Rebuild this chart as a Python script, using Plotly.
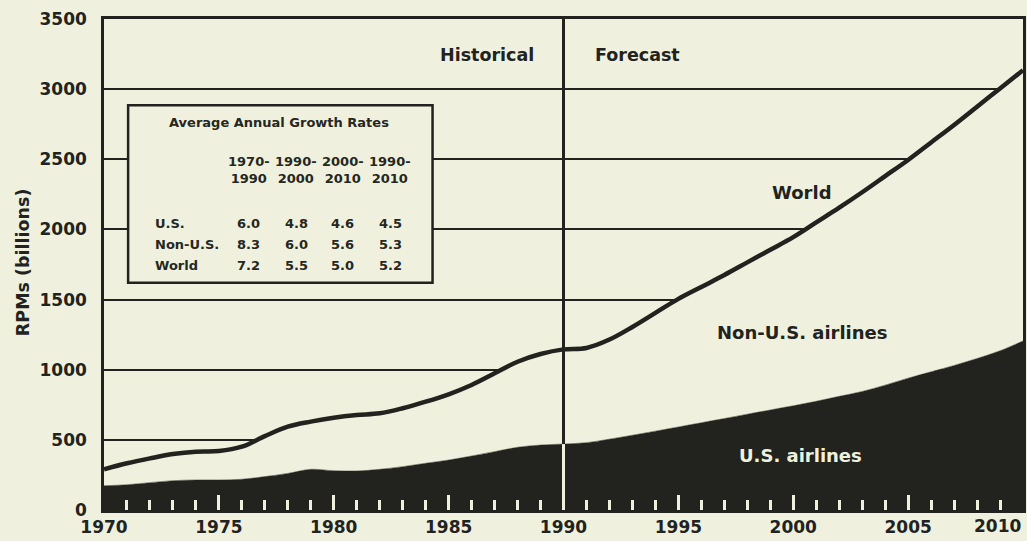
import plotly.graph_objects as go

# RPMs in billions
years = list(range(1970, 2011))
us_rpm = [173, 180, 195, 209, 214, 214, 219, 238, 261, 290, 280,
          278, 290, 309, 333, 356, 385, 416, 447, 463, 470,
          480, 505, 533, 562, 592, 622, 652, 683, 713, 743,
          775, 810, 845, 890, 940, 985, 1030, 1080, 1135, 1205]
world_rpm = [290, 333, 368, 399, 416, 420, 451, 527, 594, 630, 658,
             677, 689, 725, 772, 825, 891, 974, 1057, 1112, 1145,
             1155, 1215, 1305, 1405, 1505, 1590, 1675, 1765, 1855, 1945,
             2050, 2155, 2265, 2380, 2495, 2620, 2745, 2875, 3005, 3135]

y_ticks = [0, 500, 1000, 1500, 2000, 2500, 3000, 3500]
x_ticks = [1970, 1975, 1980, 1985, 1990, 1995, 2000, 2005]
last_year = 2010

# growth-rate table
periods = ["1970-<br>1990", "1990-<br>2000", "2000-<br>2010", "1990-<br>2010"]
regions = ["U.S.", "Non-U.S.", "World"]
rates = {
    "U.S.": ["6.0", "4.8", "4.6", "4.5"],
    "Non-U.S.": ["8.3", "6.0", "5.6", "5.3"],
    "World": ["7.2", "5.5", "5.0", "5.2"],
}

BG = "#eff1de"
INK = "#22231e"
FONT = "DejaVu Sans"

fig = go.Figure()
fig.add_trace(go.Scatter(
    x=years, y=us_rpm, mode="lines", line=dict(color=INK, width=0.5, shape="spline"),
    fill="tozeroy", fillcolor=INK, hoverinfo="skip", name="U.S. airlines"))
fig.add_trace(go.Scatter(
    x=years, y=world_rpm, mode="lines", line=dict(color=INK, width=4.5, shape="spline"),
    fill="tonexty", fillcolor=BG, hoverinfo="skip", name="World"))

# divider between history and forecast
us_1990 = us_rpm[years.index(1990)]
fig.add_shape(type="line", x0=1990, x1=1990, y0=us_1990, y1=3500,
              line=dict(color=INK, width=3), layer="above")
fig.add_shape(type="line", x0=1990, x1=1990, y0=0, y1=us_1990,
              line=dict(color=BG, width=3), layer="above")

# table box
fig.add_shape(type="rect", x0=1971.05, x1=1984.3, y0=1620, y1=2885,
              line=dict(color=INK, width=2.5), fillcolor=BG, layer="above")

tfont = dict(family=FONT, size=13, color="#262721", weight="bold")
fig.add_annotation(x=1977.6, y=2759, text="Average Annual Growth Rates",
                   showarrow=False, font=tfont)
col_x = [1976.31, 1978.36, 1980.40, 1982.45]
row_y = [2039, 1896, 1746]
for cx, p in zip(col_x, periods):
    fig.add_annotation(x=cx, y=2424, text=p, showarrow=False, font=tfont)
for ry, r in zip(row_y, regions):
    fig.add_annotation(x=1972.13, y=ry, text=r, showarrow=False, font=tfont,
                       xanchor="left")
    for cx, v in zip(col_x, rates[r]):
        fig.add_annotation(x=cx, y=ry, text=v, showarrow=False, font=tfont)

bfont = dict(family=FONT, size=17.5, color=INK, weight="bold")
fig.add_annotation(x=1986.65, y=3240, text="Historical", showarrow=False, font=bfont)
fig.add_annotation(x=1993.2, y=3240, text="Forecast", showarrow=False, font=bfont)
lfont = dict(family=FONT, size=18, color=INK, weight="bold")
fig.add_annotation(x=2000.4, y=2260, text="World", showarrow=False, font=lfont)
fig.add_annotation(x=2000.4, y=1262, text="Non-U.S. airlines", showarrow=False, font=lfont)
fig.add_annotation(x=2000.3, y=385, text="U.S. airlines", showarrow=False,
                   font=dict(family=FONT, size=18, color=BG, weight="bold"))
fig.add_annotation(xref="paper", yref="paper", x=-0.088, y=0.505, xshift=-12,
                   text="RPMs (billions)", textangle=-90, showarrow=False,
                   font=dict(family=FONT, size=17.5, color=INK, weight="bold"))

tick_font = dict(family=FONT, size=17, color=INK, weight="bold")
# last x label sits flush with the right edge
fig.add_annotation(x=last_year, y=0, yref="y", text=str(last_year), showarrow=False,
                   xanchor="right", yanchor="top", yshift=-4, font=tick_font)

fig.update_xaxes(range=[1970, 2010], tickvals=x_ticks, ticks="inside", ticklen=15,
                 tickwidth=3, tickcolor=BG, showgrid=False, zeroline=False,
                 showline=True, mirror=True, linecolor=INK, linewidth=2.5,
                 automargin=False, ticklabelstandoff=0, tickfont=tick_font,
                 minor=dict(dtick=1, tick0=1970, ticks="inside", ticklen=10,
                            tickwidth=3, tickcolor=BG, showgrid=False))
fig.update_yaxes(range=[0, 3500], tickvals=y_ticks, ticks="", showgrid=True,
                 gridcolor=INK, gridwidth=2, zeroline=False, showline=True,
                 mirror=True, linecolor=INK, linewidth=2.5, ticklabelstandoff=11,
                 automargin=False, tickfont=tick_font)
fig.update_layout(width=1027, height=541, margin=dict(l=104, r=4, t=19, b=31),
                  paper_bgcolor=BG, plot_bgcolor=BG, showlegend=False)

fig.write_html("out.html", config=dict(displayModeBar=False),
               post_script="document.body.style.margin='0';"
                           "document.body.style.background='%s';" % BG)
